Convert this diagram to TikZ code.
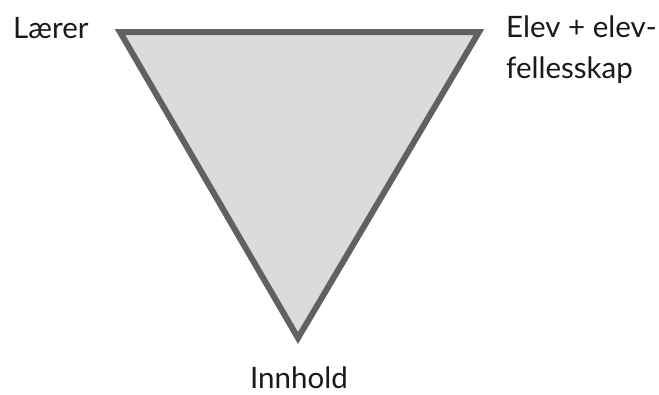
\documentclass[tikz,border=0pt]{standalone}
\usepackage{fontspec}
\setmainfont{Lato}
\begin{document}
\begin{tikzpicture}[x=1pt,y=-1pt,
  lbl/.style={font=\fontsize{29.5}{41}\selectfont, text=black!90, inner sep=0pt, align=left},
  tri/.style={draw=black!62, fill=black!14, line width=6pt, line join=miter}]
\useasboundingbox (0,0) rectangle (659,394);
\coordinate (tl) at (120,32);
\coordinate (tr) at (479,32);
\coordinate (bt) at (298,338);
\draw[tri] (tl) -- (tr) -- (bt) -- cycle;
\node[lbl, anchor=base west] (laerer) at (13,38) {Lærer};
\node[lbl, anchor=base west] (elev) at (506,37) {Elev + elev-};
\node[lbl, anchor=base west] (fell) at (506,78) {fellesskap};
\node[lbl, anchor=base] (innhold) at (299,388) {Innhold};
\end{tikzpicture}
\end{document}
